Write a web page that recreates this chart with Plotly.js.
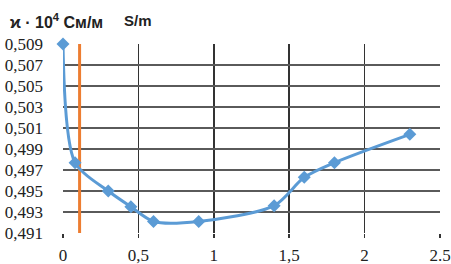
<!DOCTYPE html>
<html>
<head>
<meta charset="utf-8">
<script src="https://cdn.plot.ly/plotly-3.0.1.min.js"></script>
<style>html,body{margin:0;padding:0;background:#fff;}#chart{width:451px;height:264px;}</style>
</head>
<body>
<div id="chart"></div>
<script>
// data
const xValues = [0, 0.08, 0.3, 0.45, 0.6, 0.9, 1.4, 1.6, 1.8, 2.3];
const kappaValues = [0.509, 0.4977, 0.4950, 0.4935, 0.4921, 0.4921, 0.4936, 0.4963, 0.4977, 0.5004];
const markerLineX = [0.11, 0.11];
const markerLineY = [0.491, 0.509];
const yTickVals = [0.491, 0.493, 0.495, 0.497, 0.499, 0.501, 0.503, 0.505, 0.507, 0.509];
const yTickText = ["0,491", "0,493", "0,495", "0,497", "0,499", "0,501", "0,503", "0,505", "0,507", "0,509"];
const xTickVals = [0, 0.5, 1, 1.5, 2, 2.5];
const xTickText = ["0", "0,5", "1", "1,5", "2", "2.5"];

const traces = [
  {
    x: markerLineX, y: markerLineY, type: 'scatter', mode: 'lines',
    line: {color: '#ED7D31', width: 3}, hoverinfo: 'skip', showlegend: false
  },
  {
    x: xValues, y: kappaValues, type: 'scatter', mode: 'lines+markers',
    line: {color: '#5B9BD5', width: 3, shape: 'spline', smoothing: 0.8},
    marker: {symbol: 'diamond', size: 10, color: '#5B9BD5'},
    cliponaxis: false, showlegend: false
  }
];

const layout = {
  width: 451, height: 264,
  margin: {l: 63, r: 11, t: 44, b: 31},
  paper_bgcolor: '#fff', plot_bgcolor: '#fff',
  showlegend: false,
  xaxis: {
    range: [0, 2.5], tickvals: xTickVals, ticktext: xTickText,
    showgrid: true, gridcolor: '#333', gridwidth: 1.5,
    zeroline: false, showline: false,
    ticks: 'outside', ticklen: 4, tickcolor: '#333', tickwidth: 1.5,
    tickfont: {family: 'Liberation Serif', size: 17, color: '#222'}, ticklabelstandoff: 3
  },
  yaxis: {
    range: [0.491, 0.509], tickvals: yTickVals, ticktext: yTickText,
    showgrid: true, gridcolor: '#5a5a5a', gridwidth: 1.5,
    zeroline: false, showline: false,
    ticks: '', tickfont: {family: 'Liberation Serif', size: 17, color: '#222'}, ticklabelstandoff: 19
  },
  annotations: [
    {
      text: '<b>ϰ · 10<sup>4</sup> См/м</b>', xref: 'paper', yref: 'paper',
      x: (8 - 63) / 377, y: 1 + (44 - 21) / 189, xanchor: 'left', yanchor: 'middle',
      showarrow: false, font: {family: 'Liberation Sans', size: 16, color: '#222'}
    },
    {
      text: '<b>S/m</b>', xref: 'paper', yref: 'paper',
      x: (122 - 63) / 377, y: 1 + (44 - 20) / 189, xanchor: 'left', yanchor: 'middle',
      showarrow: false, font: {family: 'Liberation Sans', size: 15, color: '#222'}
    }
  ]
};

Plotly.newPlot('chart', traces, layout, {displayModeBar: false, staticPlot: true});
</script>
</body>
</html>
